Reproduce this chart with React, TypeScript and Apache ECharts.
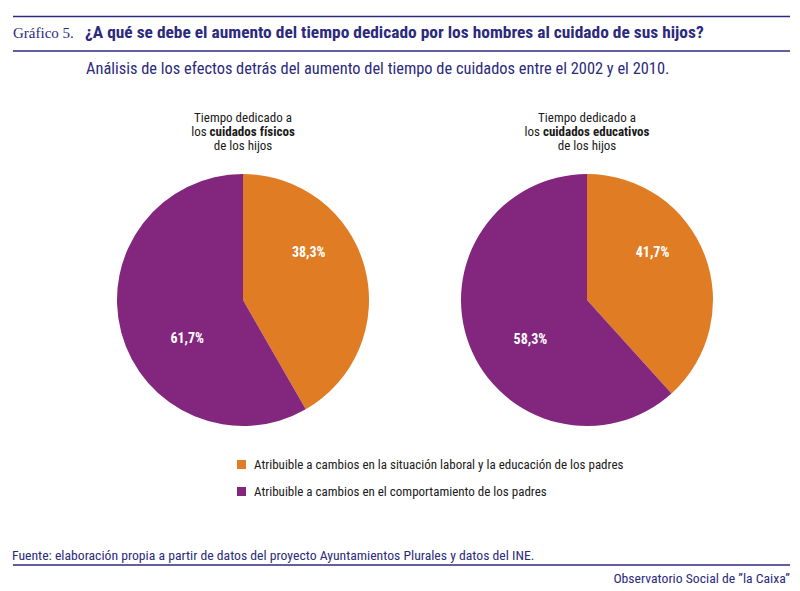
import React, { useEffect, useRef } from "react";
import * as echarts from "echarts";

const categories = [
  "Atribuible a cambios en la situación laboral y la educación de los padres",
  "Atribuible a cambios en el comportamiento de los padres",
];
// printed percentages
const fisicosLabels = [38.3, 61.7];
const educativosLabels = [41.7, 58.3];
// wedge sizes as drawn in the picture (the original draws the two pies' wedges swapped)
const fisicosValues = [41.7, 58.3];
const educativosValues = [38.3, 61.7];
const colors = ["#df7c24", "#83267e"];
const navy = "#2c2a7c";
const FONT = "'Liberation Sans Narrow', 'Roboto Condensed', Roboto, sans-serif";

const fmt = (v: number) => v.toFixed(1).replace(".", ",") + "%";

// label offsets from the default inside position (to mimic the reference placement)
const fisOffsets = [
  [2, -31],
  [8, 21],
];
const eduOffsets = [
  [4, -24],
  [5, 15],
];

export default function App() {
  const ref = useRef<HTMLDivElement>(null);
  useEffect(() => {
    const chart = echarts.init(ref.current!, null, { renderer: "svg" });
    const mkSeries = (name: string, vals: number[], labels: number[], cx: number, offs: number[][]) => ({
      type: "pie",
      name,
      center: [cx, 300],
      radius: [0, 126],
      startAngle: 90,
      clockwise: true,
      silent: true,
      label: {
        show: true,
        position: "inside",
        formatter: (p: any) => fmt(labels[p.dataIndex]),
        color: "#ffffff",
        fontFamily: FONT,
        fontWeight: "bold",
        fontSize: 14,
      },
      labelLine: { show: false },
      labelLayout: (p: any) => ({ dx: offs[p.dataIndex][0], dy: offs[p.dataIndex][1] }),
      itemStyle: { borderWidth: 0 },
      data: categories.map((c, i) => ({ name: c, value: vals[i], itemStyle: { color: colors[i] } })),
    });
    const pieTitle = (cx: number, bold: string) => ({
      type: "text",
      x: cx,
      y: 110,
      style: {
        text: "Tiempo dedicado a\nlos {b|" + bold + "}\nde los hijos",
        textAlign: "center",
        fill: "#1a1a1a",
        font: "13px " + FONT,
        lineHeight: 14,
        rich: {
          b: { fontWeight: "bold", fontFamily: FONT, fontSize: 13, fill: "#1a1a1a" },
        },
      },
    });
    chart.setOption({
      animation: false,
      backgroundColor: "#ffffff",
      legend: {
        orient: "vertical",
        left: 232,
        top: 453,
        icon: "rect",
        itemWidth: 9,
        itemHeight: 9,
        itemGap: 14,
        selectedMode: false,
        data: categories,
        textStyle: { fontFamily: FONT, fontSize: 13, color: "#1a1a1a", padding: [0, 0, 0, 3] },
      },
      series: [
        mkSeries("Tiempo dedicado a los cuidados físicos de los hijos", fisicosValues, fisicosLabels, 243, fisOffsets),
        mkSeries("Tiempo dedicado a los cuidados educativos de los hijos", educativosValues, educativosLabels, 587, eduOffsets),
      ],
      graphic: [
        { type: "line", shape: { x1: 13, y1: 16.5, x2: 790, y2: 16.5 }, style: { stroke: navy, lineWidth: 1.6 } },
        { type: "line", shape: { x1: 13, y1: 51, x2: 790, y2: 51 }, style: { stroke: navy, lineWidth: 1.6 } },
        {
          type: "text",
          x: 13,
          y: 25,
          style: { text: "Gráfico 5.", fill: navy, font: "15px 'Liberation Serif', 'DejaVu Serif', serif" },
        },
        {
          type: "text",
          x: 85,
          y: 23,
          style: { text: "¿A qué se debe el aumento del tiempo dedicado por los hombres al cuidado de sus hijos?", fill: navy, font: "bold 17.4px " + FONT },
        },
        {
          type: "text",
          x: 86,
          y: 60,
          style: { text: "Análisis de los efectos detrás del aumento del tiempo de cuidados entre el 2002 y el 2010.", fill: navy, font: "16.4px " + FONT },
        },
        pieTitle(243, "cuidados físicos"),
        pieTitle(587, "cuidados educativos"),
        {
          type: "text",
          x: 12,
          y: 548,
          style: { text: "Fuente: elaboración propia a partir de datos del proyecto Ayuntamientos Plurales y datos del INE.", fill: navy, font: "13.7px " + FONT },
        },
        { type: "line", shape: { x1: 13, y1: 565, x2: 790, y2: 565 }, style: { stroke: navy, lineWidth: 1.6 } },
        {
          type: "text",
          x: 790,
          y: 571,
          style: { text: "Observatorio Social de \u201Dla Caixa\u201D", fill: navy, font: "13.7px " + FONT, textAlign: "right" },
        },
      ],
    });
    return () => chart.dispose();
  }, []);
  return (
    <div
      ref={ref}
      style={{ position: "fixed", left: 0, top: 0, width: 800, height: 591, background: "#fff" }}
    />
  );
}
